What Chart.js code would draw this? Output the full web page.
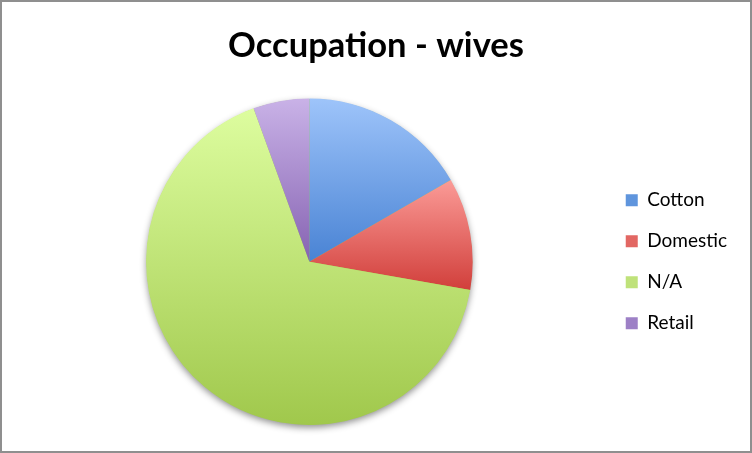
<!DOCTYPE html>
<html>
<head>
<meta charset="utf-8">
<script src="https://cdn.jsdelivr.net/npm/chart.js@4/dist/chart.umd.min.js"></script>
<style>
  html, body { margin: 0; padding: 0; background: #fff; }
  #box { width: 752px; height: 453px; box-sizing: border-box; border: 2px solid #8f8f8f; background: #fff; }
</style>
</head>
<body>
<div id="box"><canvas id="pieChart" width="748" height="449"></canvas></div>
<script>
const labels = ['Cotton', 'Domestic', 'N/A', 'Retail'];
const counts = [3, 2, 12, 1];
const lightColors = ['#9ec4fa', '#fb9b97', '#ddfd9f', '#c9b2e7'];
const darkColors = ['#4983d4', '#d13f3b', '#a0c84c', '#8663b2'];
const legendColors = ['#5f95dd', '#e26763', '#bfe27a', '#9d80c6'];

// vertical extent of one slice, so each slice gets its own top-to-bottom gradient
function sliceExtent(cy, r, a0, a1) {
    const ys = [cy, cy + r * Math.sin(a0), cy + r * Math.sin(a1)];
    for (let k = -1; k <= 2; k++) {
        const top = -Math.PI / 2 + 2 * Math.PI * k;
        const bottom = Math.PI / 2 + 2 * Math.PI * k;
        if (top > a0 && top < a1) ys.push(cy - r);
        if (bottom > a0 && bottom < a1) ys.push(cy + r);
    }
    return [Math.min(...ys), Math.max(...ys)];
}

function sliceFill(context) {
    const i = context.dataIndex;
    const area = context.chart.chartArea;
    if (!area) return lightColors[i];
    const cy = (area.top + area.bottom) / 2;
    const r = Math.min(area.right - area.left, area.bottom - area.top) / 2;
    const total = counts.reduce((a, b) => a + b, 0);
    const before = counts.slice(0, i).reduce((a, b) => a + b, 0);
    const a0 = -Math.PI / 2 + 2 * Math.PI * before / total;
    const a1 = a0 + 2 * Math.PI * counts[i] / total;
    const [y0, y1] = sliceExtent(cy, r, a0, a1);
    const g = context.chart.ctx.createLinearGradient(0, y0, 0, y1);
    g.addColorStop(0, lightColors[i]);
    g.addColorStop(1, darkColors[i]);
    return g;
}

// soft shadow under the pie
const pieShadow = {
    id: 'pieShadow',
    beforeDatasetsDraw(chart) {
        const arc = chart.getDatasetMeta(0).data[0];
        if (!arc) return;
        const ctx = chart.ctx;
        ctx.save();
        ctx.shadowColor = 'rgba(0, 0, 0, 0.45)';
        ctx.shadowBlur = 7;
        ctx.shadowOffsetY = 3;
        ctx.fillStyle = darkColors[2];
        ctx.beginPath();
        ctx.arc(arc.x, arc.y, arc.outerRadius - 0.5, 0, 2 * Math.PI);
        ctx.fill();
        ctx.restore();
    }
};

const ctx = document.getElementById('pieChart').getContext('2d');
new Chart(ctx, {
    type: 'pie',
    data: {
        labels: labels,
        datasets: [{
            data: counts,
            backgroundColor: sliceFill,
            borderWidth: 0
        }]
    },
    options: {
        responsive: false,
        animation: false,
        layout: {
            padding: { left: 13, right: 13, top: 0, bottom: 26 }
        },
        plugins: {
            title: {
                display: true,
                text: 'Occupation - wives',
                color: '#000',
                font: { family: 'Lato', size: 34.5, weight: 'bold' },
                padding: { top: 23, bottom: 32 }
            },
            legend: {
                position: 'right',
                fullSize: false,
                labels: {
                    boxWidth: 12,
                    boxHeight: 12,
                    padding: 22,
                    color: '#000',
                    font: { family: 'Lato', size: 19 },
                    generateLabels(chart) {
                        const items = Chart.overrides.pie.plugins.legend.labels.generateLabels(chart);
                        items.forEach((item, i) => {
                            item.fillStyle = legendColors[i];
                            item.strokeStyle = legendColors[i];
                            item.lineWidth = 0;
                        });
                        return items;
                    }
                }
            },
            tooltip: { enabled: false }
        }
    },
    plugins: [pieShadow]
});
</script>
</body>
</html>
